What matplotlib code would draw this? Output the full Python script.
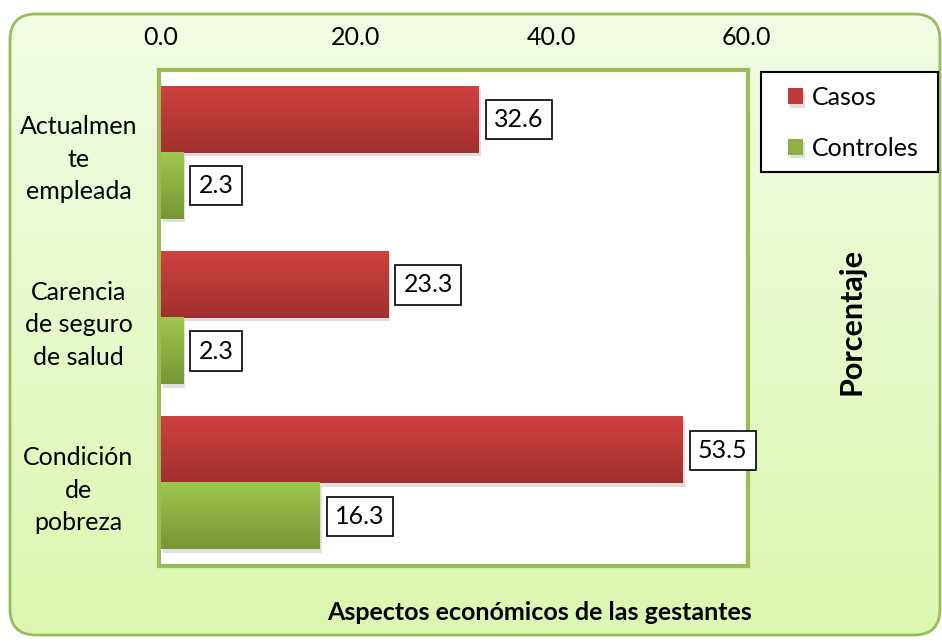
import matplotlib
matplotlib.use("Agg")
import matplotlib.pyplot as plt
import numpy as np
from matplotlib.patches import FancyBboxPatch, Rectangle
import matplotlib.patheffects as pe
from matplotlib.colors import LinearSegmentedColormap

plt.rcParams['font.family'] = ['Lato', 'DejaVu Sans']

# datos del grafico
categorias = ['Actualmen\nte\nempleada', 'Carencia\nde seguro\nde salud', 'Condición\nde\npobreza']
casos = [32.6, 23.3, 53.5]
controles = [2.3, 2.3, 16.3]
series = ['Casos', 'Controles']
ticks_x = [0, 20, 40, 60]

W, H = 942, 642
fs = 18
fig = plt.figure(figsize=(W / 100, H / 100), dpi=100)

# fondo redondeado con degradado verde
bg = fig.add_axes([0, 0, 1, 1], zorder=-5)
bg.set_xlim(0, W)
bg.set_ylim(0, H)
bg.axis('off')
marco = FancyBboxPatch((10, 7), 930, 621, boxstyle="round,pad=0,rounding_size=26",
                       facecolor='none', edgecolor='#9bbb59', linewidth=2, zorder=3)
bg.add_patch(marco)
grad = np.linspace(0, 1, 256).reshape(-1, 1)
cmap_bg = LinearSegmentedColormap.from_list('bg', ['#dcf7b0', '#f2fce5'])
img = bg.imshow(grad, extent=(0, W, 0, H), origin='lower', aspect='auto', cmap=cmap_bg, zorder=1)
img.set_clip_path(marco)

# recuadro de la leyenda
bg.add_patch(Rectangle((761, H - 172), 177, 100, facecolor='white', edgecolor='black',
                       linewidth=1.5, zorder=4))

ax = fig.add_axes([159 / W, 1 - 566 / H, 589 / W, 496 / H])
ax.set_facecolor('white')
for s in ax.spines.values():
    s.set_color('#9bbb59')
    s.set_linewidth(3)

y = np.arange(len(categorias))
h = 0.4
sombra = [pe.SimplePatchShadow(offset=(1.5, -2.5), alpha=0.15), pe.Normal()]
b1 = ax.barh(y - h / 2, casos, height=h, color='#c0393a', label=series[0], zorder=2,
             path_effects=sombra)
b2 = ax.barh(y + h / 2, controles, height=h, color='#8cb043', label=series[1], zorder=2,
             path_effects=sombra)

# degradado vertical dentro de cada barra
cm_r = LinearSegmentedColormap.from_list('r', ['#cf413f', '#a0302e'])
cm_g = LinearSegmentedColormap.from_list('g', ['#a0c74d', '#779637'])
for barras, cm in ((b1, cm_r), (b2, cm_g)):
    for p in barras:
        x0, y0 = p.get_x(), p.get_y()
        ax.imshow(grad, extent=(x0, x0 + p.get_width(), y0 + p.get_height(), y0),
                  origin='upper', aspect='auto', cmap=cm, zorder=3)

# etiquetas de valor en recuadro
for barras, vals in ((b1, casos), (b2, controles)):
    for p, v in zip(barras, vals):
        ax.annotate(f'{v:.1f}', (p.get_width(), p.get_y() + p.get_height() / 2),
                    xytext=(11, 0), textcoords='offset points', ha='left', va='center',
                    fontsize=fs, zorder=5,
                    bbox=dict(boxstyle='square,pad=0.33', fc='white', ec='black', lw=1.2))

ax.set_xlim(-0.2, 60.2)
ax.set_ylim(2.5, -0.5)
ax.xaxis.tick_top()
ax.set_xticks(ticks_x)
ax.set_xticklabels([f'{t:.1f}' for t in ticks_x], fontsize=fs)
ax.tick_params(axis='x', length=0, pad=15)
ax.set_yticks(y)
ax.set_yticklabels(categorias, fontsize=fs, ha='center', linespacing=1.5)
ax.tick_params(axis='y', length=0, pad=58)

fig.text(852 / W, 1 - 322 / H, 'Porcentaje', rotation=90, ha='center', va='center',
         fontsize=22, fontweight='bold')
fig.text(540 / W, 1 - 613 / H, 'Aspectos económicos de las gestantes', ha='center',
         va='center', fontsize=fs, fontweight='bold')

leg = fig.legend(handles=[b1, b2], loc='upper left', bbox_to_anchor=(788 / W, 1 - 86 / H),
                 fontsize=fs, frameon=False, handlelength=0.6, handleheight=0.6,
                 handletextpad=0.35, labelspacing=1.1, borderpad=0, borderaxespad=0)

fig.savefig('out.png', dpi=100)
